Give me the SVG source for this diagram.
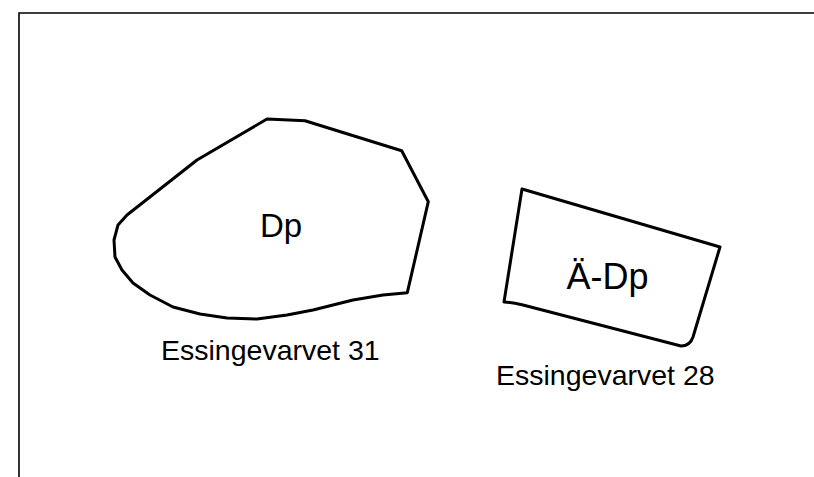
<svg xmlns="http://www.w3.org/2000/svg" width="814" height="477" viewBox="0 0 814 477">
<style>
.frame{fill:none;stroke:#000;stroke-width:1.6}
.shape{fill:none;stroke:#000;stroke-width:3;stroke-linejoin:round}
.big{font-family:"Liberation Sans",Arial,sans-serif;font-size:33px;fill:#000;text-anchor:middle}
.lab{font-family:"Liberation Sans",Arial,sans-serif;font-size:28.5px;fill:#000}
</style>
<rect width="814" height="477" fill="#fff"/>
<path class="frame" d="M19,477 L19,13 L814,13"/>
<g id="essingevarvet31">
<path class="shape" d="M267,119 L305,120.7 L401.7,150.7 L428.3,201.7 L407.3,292.7 L383,295 L353,300 L313,310 L287,315 L257,319 L227,318 L200,314 L173,307 L150,295 L133,283 L122,270 L115,257 L114,240 L118,225 L127,215 L197,160 Z"/>
<text class="big" x="281" y="236.5">Dp</text>
<text class="lab" x="161" y="360">Essingevarvet 31</text>
</g>
<g id="essingevarvet28">
<path class="shape" d="M522,189 L720,247 L693,337 Q690,346 681,346 L523,305 Q512,302.5 504,302 Z"/>
<text class="big" x="607.5" y="289.3" style="font-size:36px">Ä-Dp</text>
<text class="lab" x="496" y="385">Essingevarvet 28</text>
</g>
</svg>
